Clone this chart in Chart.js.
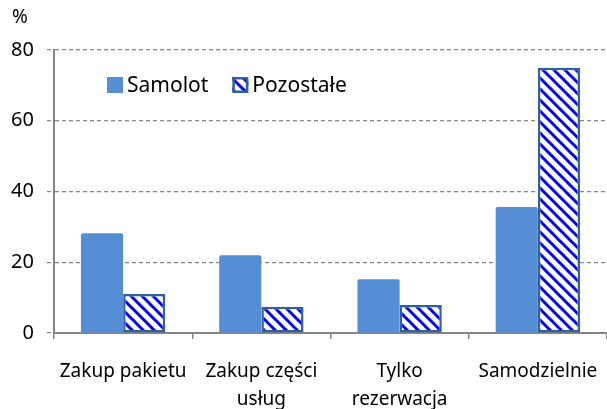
<!DOCTYPE html>
<html>
<head>
<meta charset="utf-8">
<script src="https://cdn.jsdelivr.net/npm/chart.js@4/dist/chart.umd.min.js"></script>
<style>
  html, body { margin: 0; background: #fff; }
  #wrap { width: 607px; height: 409px; position: relative; }
</style>
</head>
<body>
<div id="wrap"><canvas id="chart"></canvas></div>
<script>
// === Data ===
const CATEGORIES = ['Zakup pakietu', ['Zakup części', 'usług'], ['Tylko', 'rezerwacja'], 'Samodzielnie'];
const SAMOLOT = [28.2, 22.0, 15.2, 35.6];
const POZOSTALE = [11.0, 7.4, 7.9, 75.0];
const SERIES_NAMES = ['Samolot', 'Pozostałe'];
const Y_MIN = 0, Y_MAX = 80, Y_STEP = 20;
const UNIT = '%';

const FONT = '"Noto Sans", "DejaVu Sans", sans-serif';
const AXIS_GREY = '#868686';
const BLUE = '#558ed5';

// blue diagonal hatch, like the Excel pattern fill
function hatch() {
    const s = 11;
    const c = document.createElement('canvas');
    c.width = s; c.height = s;
    const g = c.getContext('2d');
    g.fillStyle = '#fff';
    g.fillRect(0, 0, s, s);
    g.strokeStyle = '#0000ff';
    g.lineWidth = 3;
    for (let k = -1; k <= 1; k++) {
        g.beginPath();
        g.moveTo(-1, k * s - 1);
        g.lineTo(s + 1, s + k * s + 1);
        g.stroke();
    }
    return g.createPattern(c, 'repeat');
}
const HATCH = hatch();

// legend inside the plot + the "%" unit label
const extras = {
    id: 'extras',
    afterDraw(chart) {
        const ctx = chart.ctx;
        ctx.save();
        ctx.fillStyle = '#000';
        ctx.font = `19px ${FONT}`;
        ctx.textBaseline = 'middle';
        ctx.textAlign = 'center';
        ctx.fillText(UNIT, 20, 18);

        ctx.textAlign = 'left';
        ctx.font = `21px ${FONT}`;
        const ds = chart.data.datasets;
        let x = 107;
        const y = 77, box = 16;
        ds.forEach((d, i) => {
            ctx.fillStyle = d.backgroundColor;
            ctx.fillRect(x, y, box, box);
            if (d.borderWidth) {
                ctx.strokeStyle = d.borderColor;
                ctx.lineWidth = 2.5;
                ctx.strokeRect(x + 1.25, y + 1.25, box - 2.5, box - 2.5);
            }
            ctx.fillStyle = '#000';
            ctx.fillText(d.label, x + box + 4, y + box / 2 + 1);
            x += box + 4 + ctx.measureText(d.label).width + 24;
        });
        ctx.restore();
    }
};

new Chart(document.getElementById('chart'), {
    type: 'bar',
    data: {
        labels: CATEGORIES,
        datasets: [{
            label: SERIES_NAMES[0],
            data: SAMOLOT,
            backgroundColor: BLUE,
            borderWidth: 0,
            borderRadius: 2
        }, {
            label: SERIES_NAMES[1],
            data: POZOSTALE,
            backgroundColor: HATCH,
            borderColor: '#34609a',
            borderWidth: 2.5,
            borderSkipped: false
        }]
    },
    options: {
        responsive: true,
        maintainAspectRatio: false,
        animation: false,
        devicePixelRatio: 1,
        categoryPercentage: 0.61,
        barPercentage: 1,
        layout: { padding: { top: 50, right: 0, bottom: 0, left: 0 } },
        scales: {
            x: {
                // fixed height, and no side padding so the plot runs to the right edge
                afterFit: (s) => { s.height = 76; s.paddingLeft = 0; s.paddingRight = 0; },
                border: { color: AXIS_GREY, width: 2 },
                grid: {
                    drawOnChartArea: false,
                    color: AXIS_GREY,
                    tickLength: 6,
                    lineWidth: 1.5
                },
                ticks: {
                    color: '#000',
                    font: { family: FONT, size: 19, lineHeight: 1.5 },
                    padding: 18,
                    maxRotation: 0,
                    autoSkip: false
                }
            },
            y: {
                min: Y_MIN,
                max: Y_MAX,
                afterFit: (s) => { s.width = 54; },
                // in v4 the dash of the grid lines lives under border.dash
                border: { color: AXIS_GREY, width: 2, dash: [4, 3] },
                grid: {
                    color: AXIS_GREY,
                    lineWidth: 1.2,
                    tickLength: 7,
                    tickBorderDash: [4, 3]
                },
                ticks: {
                    stepSize: Y_STEP,
                    color: '#000',
                    font: { family: FONT, size: 20 },
                    padding: 13
                }
            }
        },
        plugins: {
            legend: { display: false },
            tooltip: { enabled: false }
        }
    },
    plugins: [extras]
});
</script>
</body>
</html>
